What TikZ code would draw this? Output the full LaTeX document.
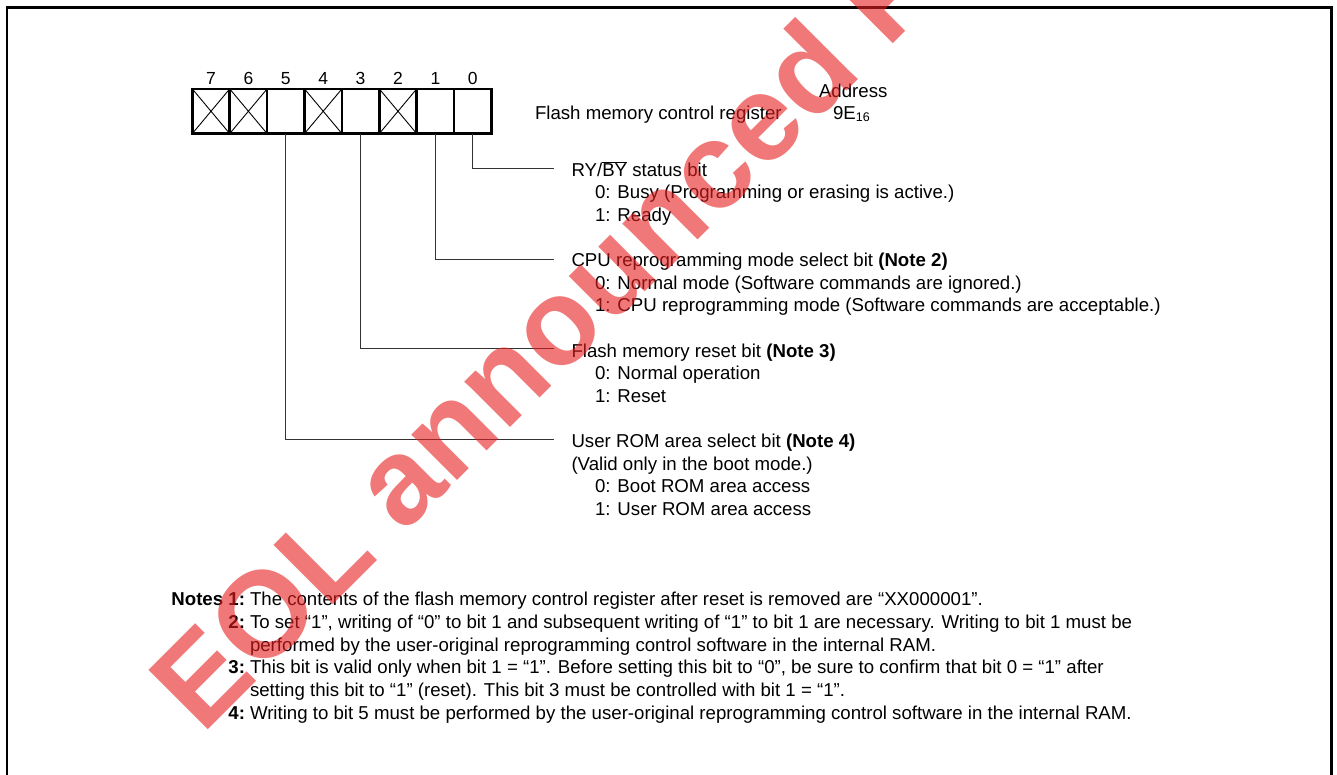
\documentclass[tikz,border=0pt]{standalone}
\usepackage{fontspec}
\setmainfont{Liberation Sans}
\definecolor{wmred}{RGB}{232,30,30}
\begin{document}
\begin{tikzpicture}[x=1pt,y=-1pt,
  txt/.style={anchor=base west, inner sep=0pt, outer sep=0pt, font=\fontsize{18.65}{22.5}\selectfont},
  numk/.style={anchor=base east, inner sep=0pt, outer sep=0pt, font=\fontsize{18.65}{22.5}\selectfont\bfseries},
  bitnum/.style={anchor=base, inner sep=0pt, outer sep=0pt, font=\fontsize{17.5}{20}\selectfont},
  cell/.style={draw, line width=2.7pt, minimum width=37.4pt, minimum height=44.7pt, inner sep=0pt, outer sep=0pt},
  leader/.style={draw=black!80, line width=0.9pt},
  xline/.style={line width=0.9pt},
  framebox/.style={line width=2.6pt},
  wm/.style={rotate=45, inner sep=0pt, text=wmred, opacity=0.6, font=\fontsize{122}{122}\selectfont\bfseries}
]
\useasboundingbox (0,0) rectangle (1337,774);
\fill[white] (0,0) rectangle (1337,774);

% frame (open at the bottom)
\draw[framebox] (7,776) -- (7,7.5) -- (1331.5,7.5) -- (1331.5,776);

% register cells
\foreach \i in {0,...,7}{
  \node[cell] (b\i) at ({211+37.4*(7-\i)},111.25) {};
  \node[bitnum] (d\i) at ({211+37.4*(7-\i)},84) {\i};
}
\foreach \i in {7,6,4,2}{
  \draw[xline] (b\i.north west) -- (b\i.south east) (b\i.north east) -- (b\i.south west);
}

% register name and address
\node[txt] (reg) at (535,119.8) {Flash memory control register};
\node[txt] (addr) at (819,97) {Address};
\node[txt] (addrv) at (833,119.8) {9E\raisebox{-1.2pt}{\fontsize{12.5}{13}\selectfont 16}};

% bit descriptions
\node[txt] (t0) at (571.5,176) {RY/$\overline{\mbox{BY}}$ status bit};
\node[txt] (t0a) at (595,198.5) {0: Busy (Programming or erasing is active.)};
\node[txt] (t0b) at (595,221) {1: Ready};

\node[txt] (t1) at (571.5,266.3) {CPU reprogramming mode select bit \textbf{(Note 2)}};
\node[txt] (t1a) at (595,289) {0: Normal mode (Software commands are ignored.)};
\node[txt] (t1b) at (595,311.5) {1: CPU reprogramming mode (Software commands are acceptable.)};

\node[txt] (t3) at (571.5,357.3) {Flash memory reset bit \textbf{(Note 3)}};
\node[txt] (t3a) at (595,379.5) {0: Normal operation};
\node[txt] (t3b) at (595,402) {1: Reset};

\node[txt] (t5) at (571.5,447) {User ROM area select bit \textbf{(Note 4)}};
\node[txt] (t5v) at (571.5,470) {(Valid only in the boot mode.)};
\node[txt] (t5a) at (595,492.5) {0: Boot ROM area access};
\node[txt] (t5b) at (595,515) {1: User ROM area access};

% leader lines
\coordinate (e0) at (554,168.3);
\coordinate (e1) at (554,259);
\coordinate (e3) at (554,348.5);
\coordinate (e5) at (554,439);
\draw[leader] (b0.south) |- (e0);
\draw[leader] (b1.south) |- (e1);
\draw[leader] (b3.south) |- (e3);
\draw[leader] (b5.south) |- (e5);

% notes
\node[numk] (n1k) at (245,605) {Notes 1:};
\node[txt] (n1) at (250,605) {The contents of the flash memory control register after reset is removed are “XX000001”.};
\node[numk] (n2k) at (245,628.3) {2:};
\node[txt] (n2) at (250,628.3) {To set “1”, writing of “0” to bit 1 and subsequent writing of “1” to bit 1 are necessary. Writing to bit 1 must be};
\node[txt] (n2c) at (250,651) {performed by the user-original reprogramming control software in the internal RAM.};
\node[numk] (n3k) at (245,673.3) {3:};
\node[txt] (n3) at (250,673.3) {This bit is valid only when bit 1 = “1”. Before setting this bit to “0”, be sure to confirm that bit 0 = “1” after};
\node[txt] (n3c) at (250,696) {setting this bit to “1” (reset). This bit 3 must be controlled with bit 1 = “1”.};
\node[numk] (n4k) at (245,719) {4:};
\node[txt] (n4) at (250,719) {Writing to bit 5 must be performed by the user-original reprogramming control software in the internal RAM.};

% watermark
\begin{scope}
\clip (0,0) rectangle (1337,774);
\node[wm] (wmark) at (543,333) {EOL announced P};
\end{scope}
\end{tikzpicture}
\end{document}
